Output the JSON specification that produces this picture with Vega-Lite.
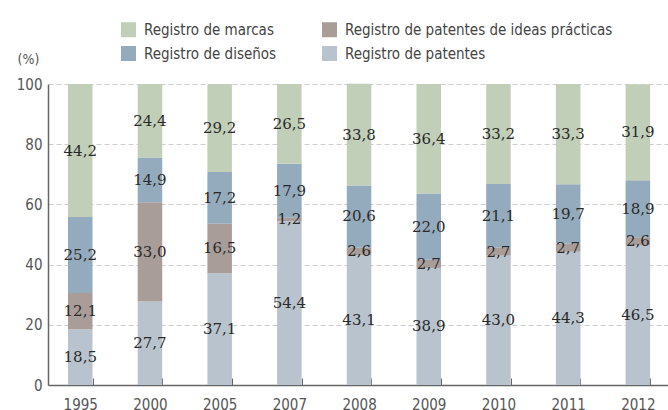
{
  "$schema": "https://vega.github.io/schema/vega-lite/v6.json",
  "width": 620,
  "height": 301,
  "autosize": "none",
  "padding": {"left": 48, "top": 84, "right": 0, "bottom": 25},
  "background": "white",
  "config": {
    "view": {"stroke": null},
    "axis": {"labelFont": "Liberation Sans Narrow, DejaVu Sans Condensed, Roboto", "titleFont": "Liberation Sans Narrow, DejaVu Sans Condensed, Roboto"},
    "legend": {"labelFont": "Liberation Sans Narrow, DejaVu Sans Condensed, Roboto"}
  },
  "data": {
    "values": [
      {"anio": "1995", "serie": "Registro de patentes", "orden": 1, "valor": 18.5, "etiqueta": "18,5"},
      {"anio": "1995", "serie": "Registro de patentes de ideas prácticas", "orden": 2, "valor": 12.1, "etiqueta": "12,1"},
      {"anio": "1995", "serie": "Registro de diseños", "orden": 3, "valor": 25.2, "etiqueta": "25,2"},
      {"anio": "1995", "serie": "Registro de marcas", "orden": 4, "valor": 44.2, "etiqueta": "44,2"},
      {"anio": "2000", "serie": "Registro de patentes", "orden": 1, "valor": 27.7, "etiqueta": "27,7"},
      {"anio": "2000", "serie": "Registro de patentes de ideas prácticas", "orden": 2, "valor": 33.0, "etiqueta": "33,0"},
      {"anio": "2000", "serie": "Registro de diseños", "orden": 3, "valor": 14.9, "etiqueta": "14,9"},
      {"anio": "2000", "serie": "Registro de marcas", "orden": 4, "valor": 24.4, "etiqueta": "24,4"},
      {"anio": "2005", "serie": "Registro de patentes", "orden": 1, "valor": 37.1, "etiqueta": "37,1"},
      {"anio": "2005", "serie": "Registro de patentes de ideas prácticas", "orden": 2, "valor": 16.5, "etiqueta": "16,5"},
      {"anio": "2005", "serie": "Registro de diseños", "orden": 3, "valor": 17.2, "etiqueta": "17,2"},
      {"anio": "2005", "serie": "Registro de marcas", "orden": 4, "valor": 29.2, "etiqueta": "29,2"},
      {"anio": "2007", "serie": "Registro de patentes", "orden": 1, "valor": 54.4, "etiqueta": "54,4"},
      {"anio": "2007", "serie": "Registro de patentes de ideas prácticas", "orden": 2, "valor": 1.2, "etiqueta": "1,2"},
      {"anio": "2007", "serie": "Registro de diseños", "orden": 3, "valor": 17.9, "etiqueta": "17,9"},
      {"anio": "2007", "serie": "Registro de marcas", "orden": 4, "valor": 26.5, "etiqueta": "26,5"},
      {"anio": "2008", "serie": "Registro de patentes", "orden": 1, "valor": 43.1, "etiqueta": "43,1"},
      {"anio": "2008", "serie": "Registro de patentes de ideas prácticas", "orden": 2, "valor": 2.6, "etiqueta": "2,6"},
      {"anio": "2008", "serie": "Registro de diseños", "orden": 3, "valor": 20.6, "etiqueta": "20,6"},
      {"anio": "2008", "serie": "Registro de marcas", "orden": 4, "valor": 33.8, "etiqueta": "33,8"},
      {"anio": "2009", "serie": "Registro de patentes", "orden": 1, "valor": 38.9, "etiqueta": "38,9"},
      {"anio": "2009", "serie": "Registro de patentes de ideas prácticas", "orden": 2, "valor": 2.7, "etiqueta": "2,7"},
      {"anio": "2009", "serie": "Registro de diseños", "orden": 3, "valor": 22.0, "etiqueta": "22,0"},
      {"anio": "2009", "serie": "Registro de marcas", "orden": 4, "valor": 36.4, "etiqueta": "36,4"},
      {"anio": "2010", "serie": "Registro de patentes", "orden": 1, "valor": 43.0, "etiqueta": "43,0"},
      {"anio": "2010", "serie": "Registro de patentes de ideas prácticas", "orden": 2, "valor": 2.7, "etiqueta": "2,7"},
      {"anio": "2010", "serie": "Registro de diseños", "orden": 3, "valor": 21.1, "etiqueta": "21,1"},
      {"anio": "2010", "serie": "Registro de marcas", "orden": 4, "valor": 33.2, "etiqueta": "33,2"},
      {"anio": "2011", "serie": "Registro de patentes", "orden": 1, "valor": 44.3, "etiqueta": "44,3"},
      {"anio": "2011", "serie": "Registro de patentes de ideas prácticas", "orden": 2, "valor": 2.7, "etiqueta": "2,7"},
      {"anio": "2011", "serie": "Registro de diseños", "orden": 3, "valor": 19.7, "etiqueta": "19,7"},
      {"anio": "2011", "serie": "Registro de marcas", "orden": 4, "valor": 33.3, "etiqueta": "33,3"},
      {"anio": "2012", "serie": "Registro de patentes", "orden": 1, "valor": 46.5, "etiqueta": "46,5"},
      {"anio": "2012", "serie": "Registro de patentes de ideas prácticas", "orden": 2, "valor": 2.6, "etiqueta": "2,6"},
      {"anio": "2012", "serie": "Registro de diseños", "orden": 3, "valor": 18.9, "etiqueta": "18,9"},
      {"anio": "2012", "serie": "Registro de marcas", "orden": 4, "valor": 31.9, "etiqueta": "31,9"}
    ]
  },
  "transform": [
    {"stack": "valor", "groupby": ["anio"], "sort": [{"field": "orden", "order": "ascending"}], "as": ["y0", "y1"]}
  ],
  "encoding": {
    "x": {
      "field": "anio",
      "type": "nominal",
      "scale": {"paddingInner": 0.648, "paddingOuter": 0.2715, "align": 0.528},
      "axis": {
        "title": null,
        "labelAngle": 0,
        "labelFontSize": 15,
        "labelColor": "#555555",
        "labelPadding": 19,
        "domainColor": "#666666",
        "domainWidth": 1.5,
        "tickBand": "extent",
        "tickColor": "#666666",
        "tickSize": -7,
        "grid": false
      }
    }
  },
  "layer": [
    {
      "mark": {"type": "bar"},
      "encoding": {
        "y": {
          "field": "y1",
          "type": "quantitative",
          "scale": {"domain": [0, 100]},
          "axis": {
            "title": "(%)",
            "titleAngle": 0,
            "titleAlign": "left",
            "titleBaseline": "middle",
            "titleX": -31,
            "titleY": -25,
            "titleFontSize": 14,
            "titleFontWeight": "normal",
            "titleColor": "#555555",
            "values": [0, 20, 40, 60, 80, 100],
            "labelFontSize": 15,
            "labelColor": "#555555",
            "labelPadding": 6,
            "ticks": false,
            "domainColor": "#666666",
            "domainWidth": 1.5,
            "grid": true,
            "gridColor": "#cccccc",
            "gridDash": [5, 3],
            "gridWidth": 1
          }
        },
        "y2": {"field": "y0"},
        "color": {
          "field": "serie",
          "type": "nominal",
          "scale": {
            "domain": ["Registro de marcas", "Registro de diseños", "Registro de patentes de ideas prácticas", "Registro de patentes"],
            "range": ["#c2cfb8", "#94aabd", "#a99d99", "#b9c3cd"]
          },
          "legend": {
            "title": null,
            "orient": "none",
            "legendX": 73,
            "legendY": -62,
            "columns": 2,
            "columnPadding": 45,
            "rowPadding": 8,
            "symbolType": "square",
            "symbolSize": 225,
            "symbolStrokeWidth": 0,
            "symbolOpacity": 1,
            "labelFontSize": 15,
            "labelColor": "#444444",
            "labelOffset": 8,
            "labelLimit": 400
          }
        }
      }
    },
    {
      "transform": [
        {"fold": ["y0", "y1"], "as": ["extremo", "pos"]}
      ],
      "mark": {"type": "text", "font": "DejaVu Serif", "fontSize": 15, "color": "#2a2a2a", "baseline": "middle"},
      "encoding": {
        "y": {"aggregate": "mean", "field": "pos", "type": "quantitative"},
        "detail": {"field": "serie", "type": "nominal"},
        "text": {"field": "etiqueta", "type": "nominal"}
      }
    }
  ]
}
